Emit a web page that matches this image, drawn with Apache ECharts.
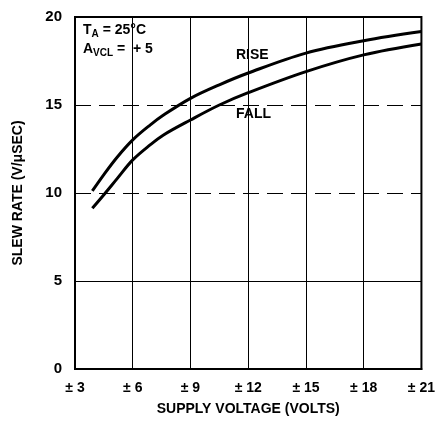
<!DOCTYPE html>
<html>
<head>
<meta charset="utf-8">
<script src="https://cdn.jsdelivr.net/npm/echarts@6/dist/echarts.min.js"></script>
<style>
  html, body { margin: 0; padding: 0; background: #fff; }
  #chart { width: 438px; height: 421px; }
</style>
</head>
<body>
<div id="chart"></div>
<script>
// supply voltage (±V) and slew rate (V/µs)
const supplyVolts = [3.9, 4.5, 5.2, 6, 6.9, 7.6, 9, 10.5, 12, 15, 18, 21];
const riseRate = [10.12, 11.05, 12.05, 13.02, 13.86, 14.43, 15.38, 16.15, 16.82, 17.95, 18.65, 19.17];
const fallRate = [9.13, 9.9, 10.83, 11.88, 12.73, 13.3, 14.15, 15.0, 15.7, 16.9, 17.85, 18.47];
const xTicks = [3, 6, 9, 12, 15, 18, 21];
const yTicks = [0, 5, 10, 15, 20];
// inner horizontal grid lines; 10 and 15 are dashed on the original sheet
const solidLevels = [5];
const dashedLevels = [10, 15];

const font = "'Liberation Sans', Arial, sans-serif";

const chart = echarts.init(document.getElementById("chart"));

const pairs = (ys) => supplyVolts.map((x, i) => [x, ys[i]]);

const levelLine = (levels, type) => ({
  silent: true,
  symbol: "none",
  label: { show: false },
  lineStyle: { color: "#000", width: 1.2, type: type },
  data: levels.map((v) => ({ yAxis: v }))
});

chart.setOption({
  backgroundColor: "#fff",
  animation: false,
  grid: {
    left: 75,
    top: 17,
    width: 352,
    height: 352,
    show: true,
    borderColor: "#000",
    borderWidth: 2
  },
  xAxis: {
    type: "value",
    min: 3,
    max: 21,
    interval: 3,
    name: "SUPPLY VOLTAGE (VOLTS)",
    nameLocation: "middle",
    nameGap: 33,
    nameTextStyle: { color: "#000", fontFamily: font, fontWeight: "bold", fontSize: 14 },
    axisLine: { lineStyle: { color: "#000", width: 2 } },
    axisTick: { show: false },
    axisLabel: {
      color: "#000",
      fontFamily: font,
      fontWeight: "bold",
      fontSize: 14,
      margin: 12,
      formatter: (v) => (xTicks.includes(v) ? "\u00b1 " + v : "")
    },
    splitLine: { show: true, lineStyle: { color: "#000", width: 1 } }
  },
  yAxis: {
    type: "value",
    min: 0,
    max: 20,
    interval: 5,
    name: "SLEW RATE (V/\u03bcSEC)",
    nameLocation: "middle",
    nameGap: 50,
    nameTextStyle: { color: "#000", fontFamily: font, fontWeight: "bold", fontSize: 14 },
    axisLine: { lineStyle: { color: "#000", width: 2 } },
    axisTick: { show: false },
    axisLabel: {
      color: "#000",
      fontFamily: font,
      fontWeight: "bold",
      fontSize: 15,
      margin: 13,
      formatter: (v) => (yTicks.includes(v) ? String(v) : "")
    },
    splitLine: { show: false }
  },
  graphic: [
    {
      type: "text",
      left: 83,
      top: 21,
      style: {
        text: "T{s|A} = 25\u00b0C\nA{s|VCL} =  + 5",
        fill: "#000",
        font: "bold 14px " + font,
        lineHeight: 19,
        rich: {
          s: { fontSize: 10, fontWeight: "bold", fontFamily: font, padding: [8, 0, 0, 0] }
        }
      }
    },
    {
      type: "text",
      left: 236,
      top: 48,
      style: { text: "RISE", fill: "#000", font: "bold 14px " + font }
    },
    {
      type: "text",
      left: 236,
      top: 107,
      style: { text: "FALL", fill: "#000", font: "bold 14px " + font }
    }
  ],
  series: [
    {
      name: "RISE",
      type: "line",
      smooth: 0.35,
      symbol: "none",
      data: pairs(riseRate),
      lineStyle: { color: "#000", width: 3 },
      markLine: levelLine(solidLevels, "solid"),
      z: 3
    },
    {
      name: "FALL",
      type: "line",
      smooth: 0.35,
      symbol: "none",
      data: pairs(fallRate),
      lineStyle: { color: "#000", width: 3 },
      markLine: levelLine(dashedLevels, [16, 8]),
      z: 3
    }
  ]
});
</script>
</body>
</html>
